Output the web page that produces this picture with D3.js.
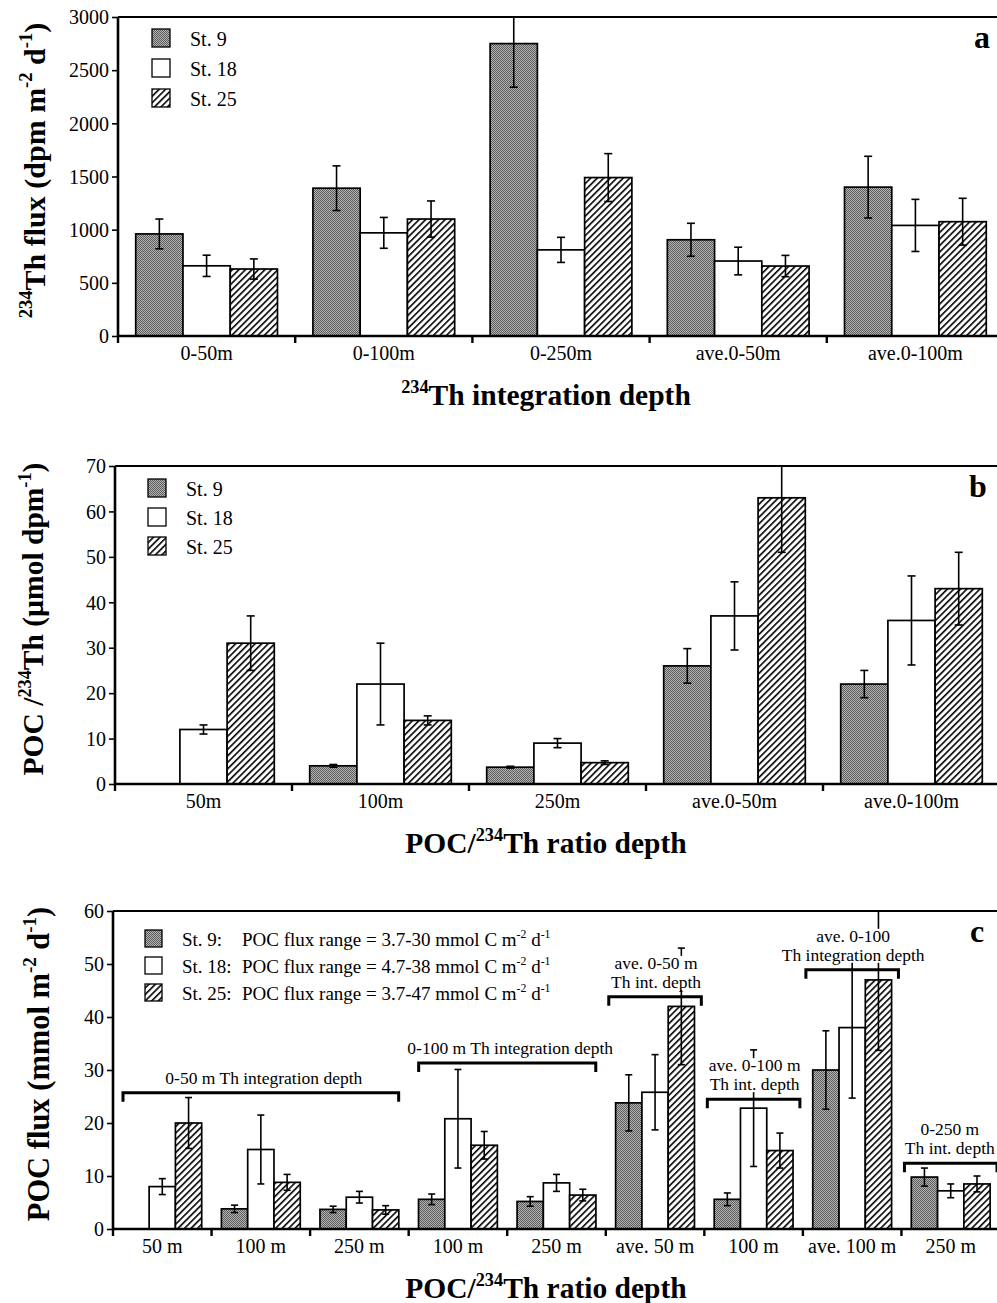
<!DOCTYPE html>
<html><head><meta charset="utf-8">
<script src="https://cdn.jsdelivr.net/npm/d3@7"></script>
<style>body{margin:0;background:#fff}svg{display:block}</style>
</head><body><div id="chart"></div>
<script>
// ---------- DATA ----------
const stations = ["St. 9", "St. 18", "St. 25"];

// Panel a: 234Th flux (dpm m-2 d-1)
const catsA = ["0-50m", "0-100m", "0-250m", "ave.0-50m", "ave.0-100m"];
const fluxA_st9  = [960, 1390, 2750, 905, 1400];
const fluxA_st18 = [660, 970, 810, 705, 1040];
const fluxA_st25 = [630, 1100, 1490, 658, 1075];
const errA_st9  = [140, 210, 410, 155, 290];
const errA_st18 = [100, 145, 118, 130, 245];
const errA_st25 = [95, 170, 225, 100, 220];
const ticksA = [0, 500, 1000, 1500, 2000, 2500, 3000];

// Panel b: POC/234Th (umol dpm-1)
const catsB = ["50m", "100m", "250m", "ave.0-50m", "ave.0-100m"];
const ratioB_st9  = [null, 4, 3.7, 26, 22];
const ratioB_st18 = [12, 22, 9, 37, 36];
const ratioB_st25 = [31, 14, 4.7, 63, 43];
const errB_st9  = [null, 0.3, 0.2, 3.8, 3];
const errB_st18 = [1, 9, 1, 7.5, 9.8];
const errB_st25 = [6, 1, 0.4, 12, 8];
const ticksB = [0, 10, 20, 30, 40, 50, 60, 70];

// Panel c: POC flux (mmol m-2 d-1)
const catsC = ["50 m", "100 m", "250 m", "100 m", "250 m", "ave. 50 m", "100 m", "ave. 100 m", "250 m"];
const fluxC_st9  = [null, 3.8, 3.7, 5.6, 5.2, 23.8, 5.6, 30, 9.8];
const fluxC_st18 = [8, 15, 6, 20.8, 8.7, 25.8, 22.8, 38, 7.2];
const fluxC_st25 = [20, 8.8, 3.6, 15.8, 6.4, 42, 14.8, 47, 8.5];
const errC_st9  = [null, 0.7, 0.6, 1, 0.9, 5.3, 1.2, 7.4, 1.7];
const errC_st18 = [1.5, 6.5, 1.1, 9.3, 1.6, 7.1, 11, 13.3, 1.3];
const errC_st25 = [4.8, 1.5, 0.8, 2.6, 1.1, 11, 3.3, 13.3, 1.5];
const ticksC = [0, 10, 20, 30, 40, 50, 60];
const legendRangesC = ["POC flux range = 3.7-30 mmol C m", "POC flux range = 4.7-38 mmol C m", "POC flux range = 3.7-47 mmol C m"];

// Panel c group annotations: first/last category index, bracket level (y units), label lines
const annStart = [0, 3, 5, 6, 7, 8];
const annEnd   = [2, 4, 5, 6, 7, 8];
const annLevel = [25.7, 31.3, 43.8, 24.5, 48.9, 12.4];
const annLines = [
  ["0-50 m Th integration depth"],
  ["0-100 m Th integration depth"],
  ["ave. 0-50 m", "Th int. depth"],
  ["ave. 0-100 m", "Th int. depth"],
  ["ave. 0-100", "Th integration depth"],
  ["0-250 m", "Th int. depth"]
];

// ---------- DRAWING ----------
const W = 997, H = 1303;
const FONT = "'Liberation Serif','Times New Roman',Times,serif";
const svg = d3.select("#chart").append("svg").attr("width", W).attr("height", H)
  .style("font-family", FONT);

const defs = svg.append("defs");
const stip = defs.append("pattern").attr("id", "stip").attr("width", 2).attr("height", 2)
  .attr("patternUnits", "userSpaceOnUse");
stip.append("rect").attr("width", 2).attr("height", 2).attr("fill", "#b4b4b4");
stip.append("rect").attr("width", 1).attr("height", 1).attr("fill", "#5c5c5c");
stip.append("rect").attr("x", 1).attr("y", 1).attr("width", 1).attr("height", 1).attr("fill", "#5c5c5c");
const hatch = defs.append("pattern").attr("id", "hatch").attr("width", 4.6).attr("height", 4.6)
  .attr("patternUnits", "userSpaceOnUse").attr("patternTransform", "rotate(45)");
hatch.append("rect").attr("width", 4.6).attr("height", 4.6).attr("fill", "#fff");
hatch.append("rect").attr("width", 1.6).attr("height", 4.6).attr("fill", "#000");
const fills = ["url(#stip)", "#fff", "url(#hatch)"];

function rich(sel, parts, size) {
  let shift = 0;
  parts.forEach(p => {
    const sup = typeof p !== "string";
    const t = sup ? p.s : p;
    const target = sup ? -0.42 * size : 0;
    sel.append("tspan").attr("dy", target - shift)
      .attr("font-size", sup ? size * 0.62 : size).text(t);
    shift = target;
  });
}

function panel(cfg, idx) {
  const {left, top, bottom, right, cats, vals, errs, ticks, ymax} = cfg;
  const g = svg.append("g");
  const x = d3.scaleBand().domain(d3.range(cats.length)).range([left, right]).padding(0);
  const xs = d3.scaleBand().domain(d3.range(3)).range([x.bandwidth() * 0.1, x.bandwidth() * 0.9]).padding(0);
  const y = d3.scaleLinear().domain([0, ymax]).range([bottom, top]);

  const clipId = "clip" + idx;
  defs.append("clipPath").attr("id", clipId).append("rect")
    .attr("x", left).attr("y", top).attr("width", right - left).attr("height", bottom - top);

  // bars
  vals.forEach((series, s) => {
    g.append("g").selectAll("rect").data(series.map((v, i) => ({v, i})).filter(d => d.v != null))
      .join("rect")
      .attr("x", d => x(d.i) + xs(s))
      .attr("y", d => y(d.v))
      .attr("width", xs.bandwidth())
      .attr("height", d => y(0) - y(d.v))
      .attr("fill", fills[s]).attr("stroke", "#000").attr("stroke-width", 1.7);
  });
  // error bars
  const eg = g.append("g").attr("clip-path", `url(#${clipId})`).attr("stroke", "#000").attr("stroke-width", 1.6);
  const cap = cfg.cap;
  vals.forEach((series, s) => {
    series.forEach((v, i) => {
      const e = errs[s][i];
      if (v == null || e == null) return;
      const cx = x(i) + xs(s) + xs.bandwidth() / 2;
      const y1 = y(v + e), y2 = y(Math.max(0, v - e));
      eg.append("line").attr("x1", cx).attr("x2", cx).attr("y1", y1).attr("y2", y2);
      eg.append("line").attr("x1", cx - cap).attr("x2", cx + cap).attr("y1", y1).attr("y2", y1);
      eg.append("line").attr("x1", cx - cap).attr("x2", cx + cap).attr("y1", y2).attr("y2", y2);
    });
  });

  // frame
  g.append("line").attr("x1", left).attr("x2", right).attr("y1", top).attr("y2", top)
    .attr("stroke", "#000").attr("stroke-width", 2.2);
  g.append("line").attr("x1", right).attr("x2", right).attr("y1", top).attr("y2", bottom)
    .attr("stroke", "#000").attr("stroke-width", 2.2);

  // y axis
  const ya = g.append("g").attr("transform", `translate(${left},0)`)
    .call(d3.axisLeft(y).tickValues(ticks).tickSize(6).tickPadding(3).tickFormat(d3.format("d")));
  ya.select(".domain").attr("stroke-width", 2.6).attr("d", `M0,${top}V${bottom + 1}`);
  ya.selectAll(".tick line").attr("stroke-width", 1.6);
  ya.selectAll(".tick text").attr("font-size", 20).attr("font-family", FONT).attr("fill", "#000").attr("dy", "0.34em");

  // x axis: ticks at category boundaries, labels centered
  const xa = g.append("g");
  xa.append("line").attr("x1", left - 1).attr("x2", right).attr("y1", bottom).attr("y2", bottom)
    .attr("stroke", "#000").attr("stroke-width", 2.6);
  xa.selectAll("line.tk").data(d3.range(cats.length + 1)).join("line").attr("class", "tk")
    .attr("x1", i => i < cats.length ? x(i) : right).attr("x2", i => i < cats.length ? x(i) : right)
    .attr("y1", bottom).attr("y2", bottom + 7).attr("stroke", "#000").attr("stroke-width", 2.4);
  xa.selectAll("text").data(cats).join("text")
    .attr("x", (d, i) => x(i) + x.bandwidth() / 2).attr("y", bottom + 24)
    .attr("text-anchor", "middle").attr("font-size", 20).text(d => d);

  // titles
  const xt = svg.append("text").attr("x", 546).attr("y", bottom + 69).attr("text-anchor", "middle")
    .attr("font-weight", "bold");
  rich(xt, cfg.xTitle, 29.5);
  const yt = svg.append("text").attr("transform", `translate(${cfg.yTitleX},${(top + bottom) / 2 - 6}) rotate(-90)`)
    .attr("text-anchor", "middle").attr("font-weight", "bold");
  rich(yt, cfg.yTitle, cfg.yTitleSize);

  // panel letter
  svg.append("text").attr("x", cfg.letterX).attr("y", cfg.letterY).attr("text-anchor", "middle")
    .attr("font-weight", "bold").attr("font-size", 32).text(cfg.letter);

  return {x, xs, y, g};
}

// ----- Panel a -----
const pa = panel({
  left: 118, top: 17, bottom: 336, right: 1004, cats: catsA,
  vals: [fluxA_st9, fluxA_st18, fluxA_st25], errs: [errA_st9, errA_st18, errA_st25],
  ticks: ticksA, ymax: 3000, cap: 4,
  xTitle: [{s: "234"}, "Th integration depth"],
  yTitle: [{s: "234"}, "Th flux (dpm m", {s: "-2"}, " d", {s: "-1"}, ")"], yTitleX: 45, yTitleSize: 30,
  letter: "a", letterX: 982, letterY: 48
}, 0);

// ----- Panel b -----
const pb = panel({
  left: 115, top: 466, bottom: 784, right: 1000, cats: catsB,
  vals: [ratioB_st9, ratioB_st18, ratioB_st25], errs: [errB_st9, errB_st18, errB_st25],
  ticks: ticksB, ymax: 70, cap: 4,
  xTitle: ["POC/", {s: "234"}, "Th ratio depth"],
  yTitle: ["POC /", {s: "234"}, "Th (\u00b5mol dpm", {s: "-1"}, ")"], yTitleX: 43, yTitleSize: 29.5,
  letter: "b", letterX: 978, letterY: 497
}, 1);

// ----- Panel c -----
const pc = panel({
  left: 113, top: 911, bottom: 1229, right: 1000, cats: catsC,
  vals: [fluxC_st9, fluxC_st18, fluxC_st25], errs: [errC_st9, errC_st18, errC_st25],
  ticks: ticksC, ymax: 60, cap: 3.5,
  xTitle: ["POC/", {s: "234"}, "Th ratio depth"],
  yTitle: ["POC flux (mmol m", {s: "-2"}, " d", {s: "-1"}, ")"], yTitleX: 49, yTitleSize: 30.5,
  letter: "c", letterX: 977, letterY: 942
}, 2);

// Legends
function legend(x0, y0, step, size, tx, labels, fs) {
  const lg = svg.append("g");
  labels.forEach((lab, s) => {
    lg.append("rect").attr("x", x0).attr("y", y0 + s * step).attr("width", size).attr("height", size)
      .attr("fill", fills[s]).attr("stroke", "#000").attr("stroke-width", 1.3);
    lg.append("text").attr("x", tx).attr("y", y0 + s * step + size - 1).attr("font-size", fs).text(lab);
  });
  return lg;
}
legend(152, 29, 30, 18, 190, stations, 20);
legend(148, 479, 29, 18, 186, stations, 20);
const lgc = legend(145, 930, 27, 17, 182, stations.map(s => s + ":"), 19);
legendRangesC.forEach((r, s) => {
  const t = lgc.append("text").attr("x", 242).attr("y", 930 + s * 27 + 16).attr("font-size", 19);
  rich(t, [r, {s: "-2"}, " d", {s: "-1"}], 19);
});

// Panel c annotations
const annG = svg.append("g");
annStart.forEach((a, k) => {
  const b = annEnd[k];
  const single = a === b;
  const pad = single ? 3 : 10;
  const x1 = pc.x(a) + pad, x2 = pc.x(b) + pc.x.bandwidth() - pad;
  const yb = pc.y(annLevel[k]);
  const cx = (x1 + x2) / 2 + (single ? 1 : 3);
  const lines = annLines[k];
  const gg = annG.append("g");
  const bg = gg.append("rect").attr("fill", "#fff");
  const txt = gg.append("g");
  lines.forEach((ln, j) => {
    txt.append("text").attr("x", cx).attr("y", yb - 9 - (lines.length - 1 - j) * 19)
      .attr("text-anchor", "middle").attr("font-size", 17.5).text(ln);
  });
  // keep text inside the picture
  let bb = txt.node().getBBox();
  const over = bb.x + bb.width - (W - 2);
  if (over > 0) txt.selectAll("text").attr("x", cx - over);
  bb = txt.node().getBBox();
  bg.attr("x", bb.x - 1).attr("y", bb.y + 3).attr("width", bb.width + 2).attr("height", bb.height - 5);
  gg.append("path").attr("d", `M${x1},${yb + 9}V${yb}H${x2}V${yb + 9}`)
    .attr("fill", "none").attr("stroke", "#000").attr("stroke-width", 3);
});
</script>
</body></html>
